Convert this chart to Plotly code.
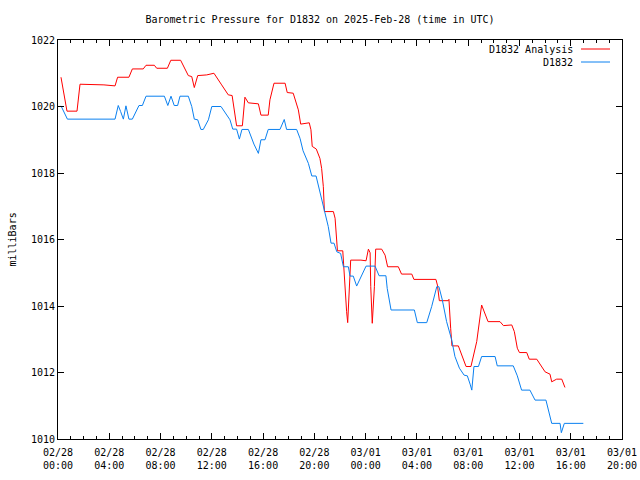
import pandas as pd
import plotly.graph_objects as go

START = pd.Timestamp("2025-02-28 00:00")

# minutes since 2025-02-28 00:00 UTC, and pressure (mb)
analysis_minutes = [14, 42, 89, 103, 215, 267, 279, 332, 348, 399, 412, 451, 462, 512, 528, 574,
                    610, 626, 638, 654, 696, 730, 766, 797, 815, 821, 831, 836, 863, 875, 891, 938,
                    950, 984, 992, 1011, 1063, 1073, 1101, 1125, 1136, 1156, 1176, 1184, 1190, 1209,
                    1226, 1234, 1242, 1247, 1289, 1297, 1305, 1308, 1333, 1339, 1351, 1356, 1362,
                    1370, 1418, 1442, 1453, 1461, 1464, 1471, 1481, 1487, 1515, 1531, 1543, 1593,
                    1608, 1656, 1666, 1769, 1776, 1785, 1827, 1830, 1838, 1844, 1874, 1910, 1933,
                    1960, 1983, 2013, 2069, 2085, 2124, 2136, 2150, 2160, 2194, 2206, 2241, 2280,
                    2303, 2311, 2334, 2358, 2373]
analysis_mb = [1020.88, 1019.86, 1019.86, 1020.67, 1020.65, 1020.62, 1020.88, 1020.88, 1021.13,
               1021.13, 1021.24, 1021.24, 1021.15, 1021.15, 1021.39, 1021.39, 1020.93, 1020.90,
               1020.57, 1020.93, 1020.95, 1021.00, 1020.65, 1020.35, 1020.33, 1020.05, 1019.60,
               1019.42, 1019.42, 1020.28, 1020.11, 1020.08, 1019.74, 1019.74, 1020.20, 1020.70,
               1020.70, 1020.42, 1020.40, 1019.90, 1019.47, 1019.50, 1019.51, 1019.30, 1018.80,
               1018.72, 1018.44, 1018.14, 1017.59, 1016.84, 1016.84, 1016.64, 1015.74, 1015.66,
               1015.66, 1014.98, 1013.83, 1013.50, 1014.43, 1015.38, 1015.38, 1015.36, 1015.71,
               1015.60, 1014.58, 1013.48, 1014.58, 1015.71, 1015.71, 1015.53, 1015.18, 1015.18,
               1014.96, 1014.96, 1014.80, 1014.80, 1014.63, 1014.16, 1014.16, 1014.20, 1013.33,
               1012.80, 1012.80, 1012.18, 1012.18, 1012.93, 1014.03, 1013.53, 1013.53, 1013.41,
               1013.43, 1013.23, 1012.73, 1012.60, 1012.60, 1012.40, 1012.40, 1012.02, 1011.95,
               1011.72, 1011.80, 1011.80, 1011.55]

obs_minutes = [14, 44, 267, 282, 293, 306, 318, 332, 348, 379, 395, 412, 498, 514, 529, 544, 560,
               571, 610, 626, 638, 654, 669, 680, 704, 720, 763, 782, 805, 818, 836, 849, 861, 891,
               917, 938, 946, 950, 969, 984, 1039, 1059, 1070, 1117, 1133, 1147, 1172, 1188, 1208,
               1218, 1239, 1250, 1265, 1278, 1292, 1305, 1323, 1336, 1359, 1367, 1382, 1398, 1442,
               1484, 1503, 1535, 1541, 1559, 1668, 1682, 1726, 1749, 1773, 1783, 1799, 1819, 1843,
               1858, 1879, 1901, 1916, 1929, 1937, 1947, 1968, 1983, 2046, 2056, 2131, 2150, 2170,
               2209, 2233, 2284, 2300, 2311, 2350, 2356, 2370, 2459]
obs_mb = [1020.02, 1019.62, 1019.62, 1020.03, 1019.85, 1019.62, 1020.02, 1019.62, 1019.62, 1020.03,
          1020.03, 1020.31, 1020.31, 1020.03, 1020.31, 1020.03, 1020.03, 1020.31, 1020.31, 1020.00,
          1019.62, 1019.60, 1019.31, 1019.31, 1019.60, 1020.00, 1020.00, 1019.80, 1019.60, 1019.32,
          1019.32, 1019.02, 1019.31, 1019.31, 1018.87, 1018.59, 1018.81, 1019.00, 1019.00, 1019.31,
          1019.31, 1019.61, 1019.31, 1019.31, 1019.04, 1018.67, 1018.29, 1017.91, 1017.91, 1017.64,
          1017.11, 1016.81, 1016.39, 1015.89, 1015.89, 1015.63, 1015.58, 1015.18, 1015.18, 1014.90,
          1014.90, 1014.60, 1015.20, 1015.20, 1014.91, 1014.91, 1014.53, 1013.88, 1013.88, 1013.50,
          1013.50, 1013.98, 1014.58, 1014.58, 1014.18, 1013.53, 1012.98, 1012.48, 1012.13, 1011.92,
          1011.90, 1011.65, 1011.47, 1012.18, 1012.18, 1012.48, 1012.48, 1012.20, 1012.20, 1011.90,
          1011.47, 1011.47, 1011.17, 1011.17, 1010.72, 1010.47, 1010.47, 1010.19, 1010.47, 1010.47]

series_names = ["D1832 Analysis", "D1832"]
series_colors = ["#ff0000", "#0a80f0"]

analysis_time = START + pd.to_timedelta(analysis_minutes, unit="min")
obs_time = START + pd.to_timedelta(obs_minutes, unit="min")

FONT = "DejaVu Sans Mono"

fig = go.Figure()
fig.add_trace(go.Scatter(x=analysis_time, y=analysis_mb, mode="lines", name=series_names[0],
                         line=dict(color=series_colors[0], width=1)))
fig.add_trace(go.Scatter(x=obs_time, y=obs_mb, mode="lines", name=series_names[1],
                         line=dict(color=series_colors[1], width=1)))

fig.update_layout(
    width=640, height=480,
    margin=dict(l=58, r=18, t=40, b=41, autoexpand=False),
    paper_bgcolor="white", plot_bgcolor="white",
    showlegend=False,
    font=dict(family=FONT, size=10, color="black"),
    title=dict(text="Barometric Pressure for D1832 on 2025-Feb-28 (time in UTC)",
               x=0.5, xanchor="center", y=1 - 19 / 480, yanchor="middle",
               font=dict(family=FONT, size=10, color="black")),
)

fig.update_xaxes(
    type="date", automargin=False,
    range=[START, START + pd.Timedelta(hours=44)],
    dtick=4 * 3600 * 1000, tick0=START,
    tickformat="%m/%d<br>%H:%M",
    ticks="inside", ticklen=6, tickcolor="black", ticklabelstandoff=4,
    minor=dict(dtick=3600 * 1000, ticks="inside", ticklen=3, tickcolor="black"),
    showline=True, linecolor="black", linewidth=1, mirror="allticks",
    showgrid=False, zeroline=False,
    tickfont=dict(family=FONT, size=10, color="black"),
)
fig.update_yaxes(
    automargin=False,
    range=[1010, 1022], dtick=2, tick0=1010,
    ticks="inside", ticklen=6, tickcolor="black",
    showline=True, linecolor="black", linewidth=1, mirror="allticks",
    showgrid=False, zeroline=False,
    tickfont=dict(family=FONT, size=10, color="black"),
)

# y-axis label
fig.add_annotation(text="milliBars", xref="paper", yref="paper",
                   x=(12 - 58) / 564, y=0.5, textangle=-90, showarrow=False,
                   xanchor="center", yanchor="middle",
                   font=dict(family=FONT, size=10, color="black"))

# gnuplot-style legend (text then line sample), top right inside
legend_y_px = [49, 62]
for name, color, ypx in zip(series_names, series_colors, legend_y_px):
    yp = (439 - ypx) / 399
    fig.add_annotation(text=name, xref="paper", yref="paper", x=(575 - 58) / 564, y=yp,
                       xanchor="right", yanchor="middle", showarrow=False,
                       font=dict(family=FONT, size=10, color="black"))
    fig.add_shape(type="line", xref="paper", yref="paper",
                  x0=(581 - 58) / 564, x1=(610 - 58) / 564, y0=yp, y1=yp,
                  line=dict(color=color, width=1))

fig.write_html("out.html")
